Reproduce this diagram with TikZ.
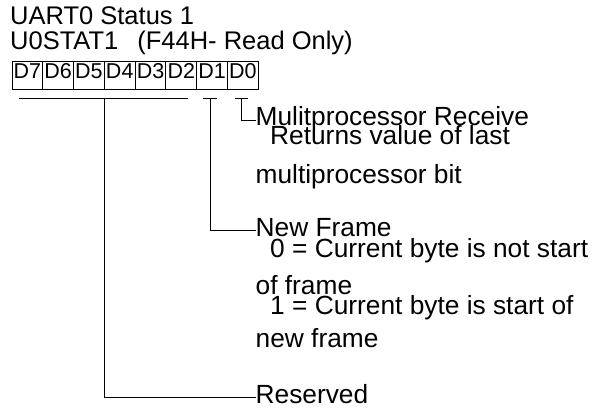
\documentclass[tikz,border=0pt]{standalone}
\usepackage{fontspec}
\setmainfont{Liberation Sans}
\begin{document}
\begin{tikzpicture}[x=1pt,y=-1pt,
  ttl/.style={anchor=base west, inner sep=0pt, font=\fontsize{25.5}{25.5}\selectfont},
  lbl/.style={anchor=base west, inner sep=0pt, font=\fontsize{26.3}{26.3}\selectfont},
  cell/.style={draw, line width=1pt, anchor=north west, inner sep=0pt,
    minimum width=30.78pt, text height=17pt, text depth=11pt,
    font=\fontsize{21.5}{21.5}\selectfont},
  conn/.style={line width=1pt}]
\useasboundingbox (0,0) rectangle (597,409);
\fill[white] (0,0) rectangle (597,409);
\node[ttl] (t1) at (10,25) {UART0 Status 1};
\node[ttl] (t2) at (10,50) {U0STAT1\hspace{19pt}(F44H- Read Only)};
\foreach \i/\n in {0/7,1/6,2/5,3/4,4/3,5/2,6/1,7/0}
  \node[cell] (c\n) at ({11.5+30.78*\i},61) {D\n};
% bracket coordinates
\coordinate (r1) at (19,99);
\coordinate (r2) at (188,99);
\coordinate (rm) at (104,99);
\coordinate (n1a) at (203,99);
\coordinate (n1b) at (217,99);
\coordinate (nm) at (210,99);
\coordinate (m0a) at (235,99);
\coordinate (m0b) at (248,99);
\coordinate (mm) at (241.5,99);
% texts
\node[lbl] (m1) at (255.5,126) {Mulitprocessor Receive};
\node[lbl] (m2) at (270,144.5) {Returns value of last};
\node[lbl] (m3) at (255.5,183) {multiprocessor bit};
\node[lbl] (f1) at (255.5,236) {New Frame};
\node[lbl] (f2) at (270,257) {0 = Current byte is not start};
\node[lbl] (f3) at (255.5,294) {of frame};
\node[lbl] (f4) at (270,314) {1 = Current byte is start of};
\node[lbl] (f5) at (255.5,347) {new frame};
\node[lbl] (rs) at (255.5,403) {Reserved};
% connectors
\draw[conn] (r1) -- (r2);
\draw[conn] (n1a) -- (n1b);
\draw[conn] (m0a) -- (m0b);
\draw[conn] (mm) |- ([yshift=5.5pt]m1.base west);
\draw[conn] (nm) |- ([yshift=5.5pt]f1.base west);
\draw[conn] (rm) |- ([yshift=5.5pt]rs.base west);
\end{tikzpicture}
\end{document}
